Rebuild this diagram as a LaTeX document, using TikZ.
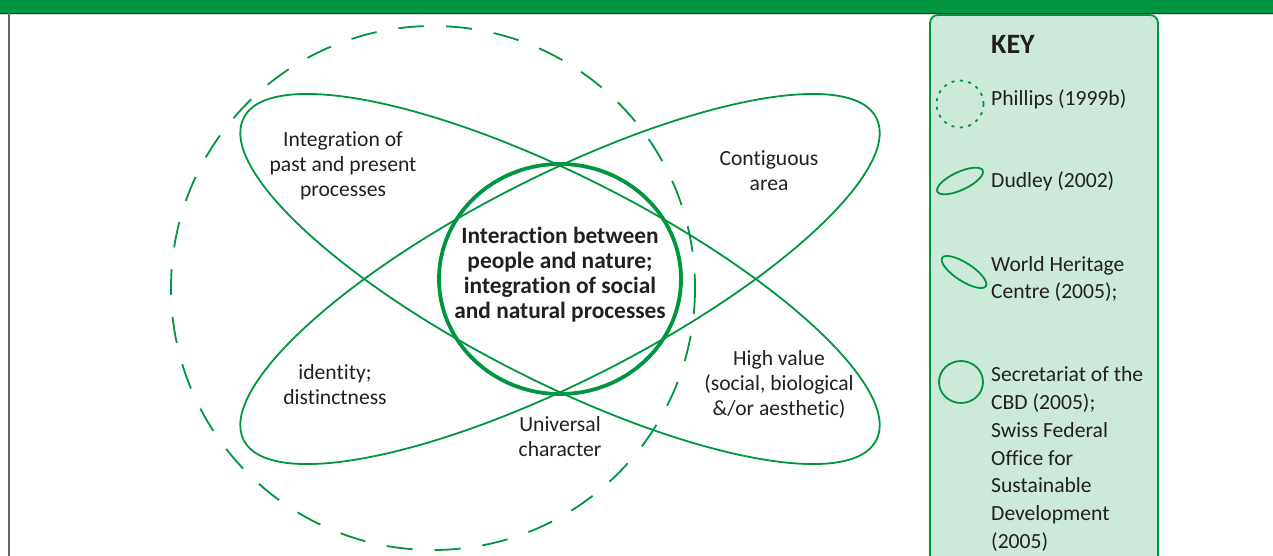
\documentclass[tikz,border=0pt]{standalone}
\usepackage{fontspec}
\setmainfont[Ligatures=NoCommon]{Carlito}
\definecolor{bargreen}{HTML}{009540}
\definecolor{linegreen}{HTML}{00963F}
\definecolor{keyfill}{HTML}{CDE9DA}
\definecolor{inkgray}{HTML}{231F20}
\begin{document}
\begin{tikzpicture}[
  x = 1pt, y = -1pt,
  ring/.style = {
    draw = linegreen,
    line width = 1.8pt
  },
  areatext/.style = {
    align = center,
    text = inkgray,
    inner sep = 0pt,
    font = \fontsize{21.6}{25}\selectfont
  },
  keytext/.style = {
    align = left,
    anchor = west,
    text = inkgray,
    inner sep = 0pt,
    font = \fontsize{21.6}{27.7}\selectfont
  }
]
  \useasboundingbox (0, 0) rectangle (1273, 555);
  \clip (0, 0) rectangle (1273, 555);

  % frame
  \fill[bargreen] (0, 0) rectangle (1273, 12.6);
  \draw[black!80, line width = 1.4pt] (0, 13.3) -- (1273, 13.3);
  \draw[black!15, line width = 1pt] (0, 14.6) -- (1273, 14.6);
  \draw[black!60, line width = 1.8pt] (9, 13) -- (9, 560);

  % diagram
  \coordinate (c) at (560, 279);
  \coordinate (p) at (433, 288);

  \draw[ring, dash pattern = on 26pt off 22pt] (p) circle (262);
  \draw[ring, rotate around = {27:(c)}] (c) ellipse [x radius = 355, y radius = 102];
  \draw[ring, rotate around = {-27:(c)}] (c) ellipse [x radius = 355, y radius = 102];
  \draw[ring, line width = 3.8pt] (c) ellipse [x radius = 121, y radius = 115];

  \node[areatext] (past) at (343, 166) {Integration of\\past and present\\processes};
  \node[areatext] (area) at (769, 171) {Contiguous\\area};
  \node[areatext, font = \bfseries\fontsize{23.4}{25}\selectfont] (core) at (560, 275)
    {Interaction between\\people and nature;\\integration of social\\and natural processes};
  \node[areatext] (ident) at (335, 385) {identity;\\distinctness};
  \node[areatext] (univ) at (560, 437) {Universal\\character};
  \node[areatext] (value) at (779, 384) {High value\\(social, biological\\\&/or aesthetic)};

  % key
  \draw[ring, fill = keyfill, rounded corners = 8pt] (930, 15) rectangle (1158, 600);
  \node[keytext, font = \bfseries\fontsize{28}{30}\selectfont] (key) at (991, 44) {KEY};

  \draw[ring, dash pattern = on 3pt off 5.5pt] (960, 104) circle (23.5);
  \node[keytext] (phil) at (991, 99) {Phillips (1999b)};

  \draw[ring, rotate around = {25:(960, 181)}] (960, 181) ellipse [x radius = 25, y radius = 9];
  \node[keytext] (dud) at (991, 181) {Dudley (2002)};

  \draw[ring, rotate around = {-33:(964, 272)}] (964, 272) ellipse [x radius = 26, y radius = 9];
  \node[keytext] (whc) at (991, 279) {World Heritage\\Centre (2005);};

  \draw[ring] (961, 382) ellipse [x radius = 22, y radius = 21];
  \node[keytext] (cbd) at (991, 459) {Secretariat of the\\CBD (2005);\\Swiss Federal\\Office for\\Sustainable\\Development\\(2005)};
\end{tikzpicture}
\end{document}
